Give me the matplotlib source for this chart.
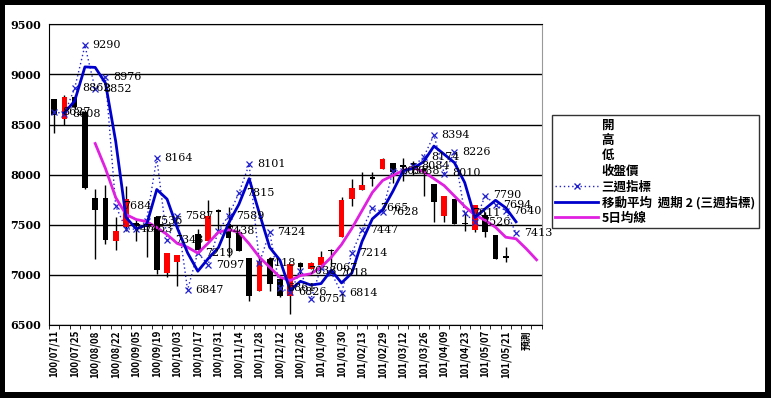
#!/usr/bin/python
#coding: utf8

##
## => weekly candles + 三週指標 + moving averages
##

import numpy as np
import matplotlib
matplotlib.use("Agg")
import matplotlib.pyplot as plt
from matplotlib.lines import Line2D
from matplotlib.patches import Rectangle

plt.rcParams['font.family'] = ['Noto Sans CJK TC', 'DejaVu Sans']

## tick labels (one every two weeks)
tick_labels = ["100/07/11", "100/07/25", "100/08/08", "100/08/22", "100/09/05",
               "100/09/19", "100/10/03", "100/10/17", "100/10/31", "100/11/14",
               "100/11/28", "100/12/12", "100/12/26", "101/01/09", "101/01/30",
               "101/02/13", "101/02/29", "101/03/12", "101/03/26", "101/04/09",
               "101/04/23", "101/05/07", "101/05/21", "預測"]

## candles : 開 / 高 / 低 / 收盤價  (nan = no data)
nan = np.nan
open_price = [8753, 8560, 8777, 8620, 7767, 7767, 7340, 7473, 7520, 7490,
              7576, 7013, 7123, nan, 7407, 7340, 7645, 7507, 7423, 7167,
              6840, 7150, 6957, 6790, 7113, 7057, 7097, 7245, 7373, 7757,
              7847, 7970, 8060, 8110, 8100, 8120, 8060, 7907, 7590, 7757,
              7520, 7443, 7590, 7390, 7180]
high_price = [8760, 8793, 8790, 8643, 7854, 7896, 7576, 7889, 7560, 7560,
              7580, 7216, 7200, nan, 7457, 7743, 7660, 7673, 7457, 7167,
              7173, 7173, 6973, 7107, 7130, 7130, 7240, 7257, 7780, 7951,
              8027, 8027, 8167, 8117, 8170, 8140, 8070, 7910, 7790, 7757,
              7611, 7693, 7625, 7390, 7273]
low_price = [8420, 8493, 8660, 7854, 7157, 7307, 7247, 7440, 7340, 7173,
             7007, 6980, 6890, nan, 7247, 7340, 7440, 7173, 7233, 6740,
             6840, 6840, 6773, 6607, 6990, 7057, 7097, 7090, 7373, 7681,
             7847, 7889, 8060, 7920, 7940, 8000, 7790, 7523, 7523, 7507,
             7433, 7423, 7380, 7157, 7123]
close_price = [8593, 8777, 8677, 7865, 7646, 7350, 7433, 7750, 7500, 7478,
               7047, 7213, 7197, nan, 7247, 7583, 7625, 7367, 7233, 6790,
               7140, 6907, 6790, 7107, 7073, 7113, 7177, 7235, 7745, 7861,
               7896, 7960, 8160, 8027, 8080, 8095, 8030, 7723, 7790, 7507,
               7505, 7693, 7423, 7157, 7170]

## 三週指標
three_week = [8627, 8608, 8862, 9290, 8852, 8976, 7684, 7457, 7453, 7536,
              8164, 7343, 7587, 6847, 7219, 7097, 7438, 7589, 7815, 8101,
              7118, 7424, 6861, 6826, 7038, 6751, 7067, 7018, 6814, 7214,
              7447, 7665, 7628, 8036, 8038, 8084, 8174, 8394, 8010, 8226,
              7611, 7526, 7790, 7694, 7640, 7413]

## 移動平均 週期 2 (三週指標)
ma_three_week = [nan, 8618, 8735, 9076, 9071, 8914, 8330, 7571, 7455, 7495,
                 7850, 7754, 7465, 7217, 7033, 7158, 7268, 7514, 7702, 7958,
                 7610, 7271, 7143, 6844, 6932, 6895, 6909, 7043, 6916, 7014,
                 7331, 7556, 7647, 7832, 8037, 8061, 8129, 8284, 8202, 8118,
                 7919, 7569, 7658, 7742, 7667, 7527]

## 5日均線
ma_five = [nan, nan, nan, nan, 8310, 8060, 7770, 7600, 7550, 7530,
           7470, 7400, 7310, 7273, 7213, 7313, 7423, 7447, 7423, 7307,
           7173, 7073, 6973, 6940, 6990, 7007, 7073, 7173, 7300, 7460,
           7640, 7820, 7940, 7990, 8040, 8067, 8027, 7958, 7889, 7785,
           7681, 7594, 7542, 7473, 7373, 7357, 7257, 7147]

n_cat = 48

## figure : black frame with white inner panel
W, H = 771.0, 398.0
fig = plt.figure(figsize=(W / 100, H / 100), dpi=100, facecolor='black')
fig.patches.append(Rectangle((5 / W, 1 - 392 / H), 760 / W, 387 / H,
                             transform=fig.transFigure, facecolor='white',
                             edgecolor='none', zorder=-1))

ax = fig.add_axes([49 / W, 1 - 324.5 / H, (541.7 - 49) / W, 300 / H])
ax.set_facecolor('white')

## candles
for i in range(len(open_price)):
    o, h, l, c = open_price[i], high_price[i], low_price[i], close_price[i]
    if np.isnan(o):
        continue
    ax.vlines(i, l, h, color='black', linewidth=1, zorder=2)
    if c >= o:
        col = '#FF0000'
    else:
        col = 'black'
    height = max(abs(c - o), 12)
    ax.bar(i, height, bottom=min(o, c), width=0.55, color=col,
           edgecolor='none', zorder=3)

x_all = np.arange(n_cat)

## 三週指標 (dotted + x)
x3 = np.arange(len(three_week))
ax.plot(x3, three_week, color='#2222CC', linestyle=(0, (1, 2)), linewidth=1,
        marker='x', markersize=4.5, markeredgewidth=0.9, zorder=4)
for i, v in enumerate(three_week):
    ax.annotate(str(v), (i, v), xytext=(5.5, 0), textcoords='offset points',
                ha='left', va='center', fontsize=8, color='black',
                family=['DejaVu Serif'], zorder=6)

## moving average period 2
ax.plot(np.arange(len(ma_three_week)), ma_three_week, color='#0000CC',
        linewidth=2, zorder=5)

## 5 day line
ax.plot(x_all, ma_five, color='#E020E0', linewidth=2, zorder=4)

## axes
ax.set_xlim(-0.5, n_cat - 0.5)
ax.set_ylim(6500, 9500)
ax.set_yticks(np.arange(6500, 9501, 500))
ax.yaxis.grid(True, color='black', linewidth=1)
ax.set_axisbelow(True)
ax.tick_params(axis='y', length=0, pad=6, labelsize=8)
for lab in ax.get_yticklabels():
    lab.set_family(['DejaVu Serif'])
    lab.set_fontweight('bold')

ax.set_xticks(np.arange(0, 2 * len(tick_labels), 2))
ax.set_xticklabels(tick_labels, rotation=90, fontsize=7, fontweight='bold')
ax.tick_params(axis='x', length=0, pad=4)
ax.set_xticks(np.arange(-0.5, n_cat, 1.0), minor=True)
ax.tick_params(axis='x', which='minor', length=3, direction='out')

for side in ['left', 'bottom', 'top']:
    ax.spines[side].set_color('black')
ax.spines['right'].set_color('#999999')

## legend
handles = [Line2D([], [], linestyle='none'),
           Line2D([], [], linestyle='none'),
           Line2D([], [], linestyle='none'),
           Line2D([], [], linestyle='none'),
           Line2D([], [], color='#2222CC', linestyle=(0, (1, 2)), linewidth=1,
                  marker='x', markersize=4.5),
           Line2D([], [], color='#0000CC', linewidth=2),
           Line2D([], [], color='#E020E0', linewidth=2)]
labels = ["開", "高", "低", "收盤價", "三週指標", "移動平均  週期 2 (三週指標)", "5日均線"]
leg = fig.legend(handles, labels, loc='upper left',
                 bbox_to_anchor=(551.7 / W, 1 - 115 / H),
                 prop={'size': 9, 'weight': 'bold'},
                 frameon=True, fancybox=False, edgecolor='black',
                 handlelength=3.4, handletextpad=0.3, borderpad=0.3,
                 labelspacing=0.19, borderaxespad=0)
leg.get_frame().set_linewidth(1)

fig.savefig("out.png", dpi=100, facecolor=fig.get_facecolor())
plt.close()
